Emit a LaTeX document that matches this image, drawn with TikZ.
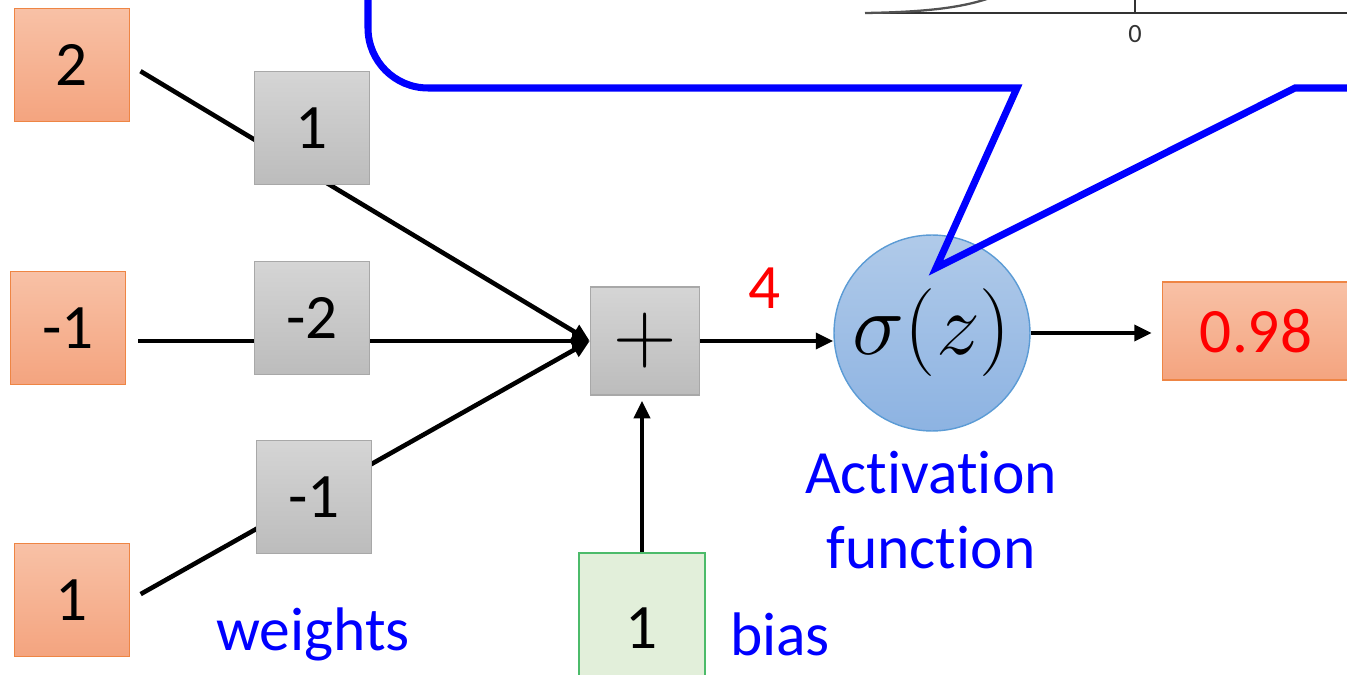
\RequirePackage{fix-cm}
\documentclass[tikz,border=0pt]{standalone}
\usepackage{fontspec}
\setmainfont{Carlito}[Ligatures=NoCommon]
\usetikzlibrary{positioning,arrows.meta,calc}
\definecolor{peach}{HTML}{F8C1A6}
\definecolor{peachdeep}{HTML}{F4A47F}
\definecolor{orangeline}{HTML}{EE8544}
\definecolor{greytop}{HTML}{D5D5D5}
\definecolor{greybot}{HTML}{BCBCBC}
\definecolor{greyline}{HTML}{A8A8A8}
\definecolor{skytop}{HTML}{B0CAE9}
\definecolor{skybot}{HTML}{8DB3E2}
\definecolor{skyline}{HTML}{5B9BD5}
\definecolor{mint}{HTML}{E2EFDA}
\definecolor{mintline}{HTML}{4CBB6A}
\definecolor{callblue}{HTML}{0000FF}
\definecolor{hot}{HTML}{FF0000}
\definecolor{plotgrey}{HTML}{333333}
\tikzset{
  inbox/.style={draw=orangeline, line width=0.8pt, top color=peach, bottom color=peachdeep,
    minimum width=2.3cm, minimum height=2.25cm, inner sep=0pt,
    font=\fontsize{36pt}{40pt}\selectfont, text=black},
  wbox/.style={draw=greyline, line width=0.8pt, top color=greytop, bottom color=greybot,
    minimum width=2.3cm, minimum height=2.26cm, inner sep=0pt,
    font=\fontsize{36pt}{40pt}\selectfont, text=black},
  sumbox/.style={wbox, minimum width=2.18cm, minimum height=2.16cm,
    font=\fontsize{50pt}{54pt}\selectfont},
  actnode/.style={circle, draw=skyline, line width=0.8pt, top color=skytop, bottom color=skybot,
    minimum size=3.92cm, inner sep=0pt, font=\fontsize{50pt}{54pt}\selectfont},
  biasbox/.style={draw=mintline, line width=0.8pt, fill=mint,
    minimum width=2.52cm, minimum height=3cm, inner sep=0pt,
    font=\fontsize{36pt}{40pt}\selectfont, text=black},
  wire/.style={line width=2.6pt, shorten <=0.24cm},
  arr/.style={-{Triangle[length=10pt,width=9pt]}, line width=2.6pt},
  blab/.style={font=\fontsize{35pt}{43pt}\selectfont, text=callblue, align=center},
  callout/.style={draw=callblue, line width=4pt, line join=miter},
}

\begin{document}
\begin{tikzpicture}[x=0.02cm, y=0.02cm]
  \clip (0,0) rectangle (1347,674);
  % piece of the plot above the callout
  \draw[plotgrey, line width=1.5pt] (865,661) -- (1360,661);
  \draw[plotgrey, line width=1.3pt] (1135,661) -- (1135,680);
  \draw[plotgrey!85, line width=1.3pt] (865,661) .. controls (930,662) and (970,667) .. (1000,680);
  \node[text=plotgrey, font=\fontsize{15pt}{17pt}\selectfont] (zero) at (1135,640) {0};

  \node[inbox] (in1) at (72,609) {2};
  \node[inbox] (in2) at (68,346) {-1};
  \node[inbox] (in3) at (72,74) {1};
  \node[sumbox] (sum) at (645,333) {$+$};
  \node[actnode] (act) at (932,341) {$\sigma{\left(z\right)}$};
  \node[inbox, minimum width=3.74cm, minimum height=1.96cm, text=hot] (out) at (1256,343) {0.98};
  \node[biasbox] (bias) at (642,46) {1};

  \draw[wire, arr] (in1.east) -- (sum.west);
  \draw[wire, arr] (in2.east |- sum.west) -- (sum.west);
  \draw[wire, arr] (in3.east) -- (sum.west);

  \node[wbox] (w1) at (312,546) {1};
  \node[wbox] (w2) at (312,356) {-2};
  \node[wbox] (w3) at (314,177) {-1};

  \draw[arr] (sum.east) -- (sum.east -| act.west);
  \draw[arr, shorten >=0.2cm] (act.east) -- (act.east -| out.west);
  \draw[arr, shorten >=0.1cm] (bias.north) -- (bias.north |- sum.south);

  \node[font=\fontsize{36pt}{40pt}\selectfont, text=hot] (sumval) at (765,386) {4};
  \node[blab] (wlab) at (313,40) {weights};
  \node[blab] (blab) at (780,40) {bias};
  \node[blab] (alab) at (931,164) {Activation\\function};

  % callout pointing at the activation
  \coordinate (tip) at ($(act.center)+(4,65)$);
  \draw[callout] (368,690) -- (368,646) arc[start angle=180, end angle=270, radius=1.2cm]
    -- (1017,586) -- (tip) -- (1295,586) -- (1360,586);
\end{tikzpicture}
\end{document}
